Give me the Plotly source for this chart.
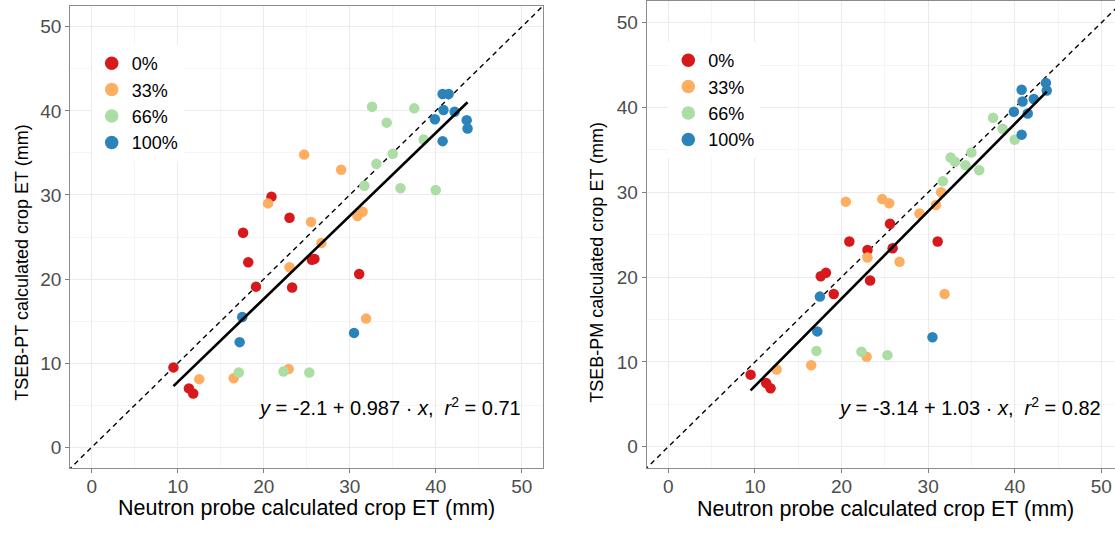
import plotly.graph_objects as go

# ---------------- data ----------------
groups = ["0%", "33%", "66%", "100%"]
colors = ["#D7191C", "#FDAE61", "#ABDDA4", "#2B83BA"]

red_x = [9.5, 11.3, 11.8, 17.6, 18.2, 19.1, 20.9, 23.0, 23.3, 25.6, 25.9, 31.1]
red_pt = [9.5, 7.0, 6.4, 25.5, 22.0, 19.1, 29.8, 27.3, 19.0, 22.3, 22.4, 20.6]
red_pm = [8.5, 7.5, 6.9, 20.1, 20.5, 18.0, 24.2, 23.2, 19.6, 26.3, 23.4, 24.2]

orange_x = [12.5, 16.5, 20.5, 22.9, 23.0, 24.7, 25.5, 26.7, 29.0, 30.9, 31.5, 31.9]
orange_pt = [8.1, 8.2, 29.0, 9.3, 21.4, 34.8, 26.8, 24.3, 33.0, 27.5, 28.0, 15.3]
orange_pm = [9.1, 9.6, 28.9, 10.6, 22.3, 29.2, 28.7, 21.8, 27.5, 28.5, 30.0, 18.0]

green_x = [17.1, 22.3, 25.3, 31.7, 32.6, 33.1, 34.3, 35.0, 35.9, 37.5, 38.6, 40.0]
green_pt = [8.9, 9.0, 8.9, 31.1, 40.5, 33.7, 38.6, 34.9, 30.8, 40.3, 36.6, 30.6]
green_pm = [11.3, 11.2, 10.8, 31.3, 34.1, 33.6, 33.2, 34.7, 32.6, 38.8, 37.5, 36.2]

blue_x = [17.2, 17.5, 30.5, 39.9, 40.8, 41.5, 40.9, 40.8, 42.2, 43.6, 43.7]
blue_pt = [12.5, 15.5, 13.6, 39.0, 42.0, 42.0, 40.1, 36.4, 39.9, 38.9, 37.9]
blue_pm = [13.6, 17.7, 12.9, 39.5, 42.1, 39.3, 40.7, 36.8, 41.0, 42.9, 42.0]

fit_intercept = [-2.1, -3.14]
fit_slope = [0.987, 1.03]
fit_label = ["<i>y</i> = -2.1 + 0.987 · <i>x</i>,&nbsp;&nbsp;<i>r</i><sup>2</sup> = 0.71",
             "<i>y</i> = -3.14 + 1.03 · <i>x</i>,&nbsp;&nbsp;<i>r</i><sup>2</sup> = 0.82"]

x_title = "Neutron probe calculated crop ET (mm)"
y_titles = ["TSEB-PT calculated crop ET (mm)", "TSEB-PM calculated crop ET (mm)"]
tick_vals = [0, 10, 20, 30, 40, 50]

xs = [red_x, orange_x, green_x, blue_x]
ys_panels = [[red_pt, orange_pt, green_pt, blue_pt],
             [red_pm, orange_pm, green_pm, blue_pm]]

# ---------------- figure ----------------
W, H = 1115, 533
FONT = "Liberation Sans, Arial, sans-serif"
fig = go.Figure()

axes = [("x", "y"), ("x2", "y2")]
legends = ["legend", "legend2"]
all_x = [v for g in xs for v in g]
xmin, xmax = min(all_x), max(all_x)

for p, (xa, ya) in enumerate(axes):
    # 1:1 dashed line
    fig.add_trace(go.Scatter(x=[-5, 60], y=[-5, 60], mode="lines",
                             line=dict(color="black", width=1.4, dash="5px,4px"),
                             xaxis=xa, yaxis=ya, showlegend=False, hoverinfo="skip"))
    # points
    for g, name in enumerate(groups):
        fig.add_trace(go.Scatter(x=xs[g], y=ys_panels[p][g], mode="markers",
                                 marker=dict(color=colors[g], size=10.5),
                                 xaxis=xa, yaxis=ya, showlegend=False, name=name))
    # regression line
    fx = [xmin, xmax]
    fy = [fit_intercept[p] + fit_slope[p] * v for v in fx]
    fig.add_trace(go.Scatter(x=fx, y=fy, mode="lines",
                             line=dict(color="black", width=2.6),
                             xaxis=xa, yaxis=ya, showlegend=False, hoverinfo="skip"))
    # legend entries (bigger key symbols)
    for g, name in enumerate(groups):
        fig.add_trace(go.Scatter(x=[None], y=[None], mode="markers",
                                 marker=dict(color=colors[g], size=13.5),
                                 xaxis=xa, yaxis=ya, name=name,
                                 legend=legends[p], showlegend=True))

grid_major = "#EBEBEB"
grid_minor = "#F5F5F5"
border = "#8C8C8C"
tickfont = dict(family=FONT, size=19, color="#4D4D4D")

def axis_style(rng, domain, mirror, anchor, standoff=0):
    return dict(range=rng, domain=domain, anchor=anchor, tickvals=tick_vals, showgrid=True,
                gridcolor=grid_major, gridwidth=1, zeroline=False, automargin=False,
                showline=True, linecolor=border, linewidth=1, mirror=mirror,
                ticks="outside", ticklen=4, tickcolor="#7F7F7F", tickwidth=1,
                tickfont=tickfont, ticklabelstandoff=standoff,
                minor=dict(dtick=5, tick0=5, showgrid=True, gridcolor=grid_minor,
                           gridwidth=1, ticks=""))

legend_font = dict(family=FONT, size=18, color="black")
fig.update_layout(
    width=W, height=H, autosize=False,
    margin=dict(l=0, r=0, t=0, b=0, pad=0),
    paper_bgcolor="white", plot_bgcolor="white",
    font=dict(family=FONT, color="black"),
    xaxis=axis_style([-2.5, 52.5], [0.063, 0.4872], True, "y", -3),
    yaxis=axis_style([-2.5, 52.5], [0.1214, 0.9892], True, "x"),
    xaxis2=axis_style([-2.5, 51.58], [0.58, 1.0], True, "y2", -3),
    yaxis2=axis_style([-2.5, 52.5], [0.1221, 0.9972], False, "x2"),
    legend=dict(x=91.7 / W, y=1 - 45 / H, xanchor="left", yanchor="top",
                bgcolor="white", font=legend_font, tracegroupgap=0, itemclick=False),
    legend2=dict(x=668.3 / W, y=1 - 42 / H, xanchor="left", yanchor="top",
                 bgcolor="white", font=legend_font, tracegroupgap=0, itemclick=False),
    showlegend=True,
)

# equations
for p, (xa, ya) in enumerate(axes):
    fig.add_annotation(x=50.2, y=4.8, xref=xa, yref=ya, text=fit_label[p],
                       showarrow=False, xanchor="right", yanchor="middle",
                       font=dict(family=FONT, size=20, color="black"))

# axis titles
x_title_pos = [(307 / W, 1 - 508 / H), (885 / W, 1 - 509 / H)]
y_title_pos = [(21.7 / W, 1 - 263 / H), (596.7 / W, 1 - 262 / H)]
for p in range(2):
    fig.add_annotation(x=x_title_pos[p][0], y=x_title_pos[p][1], xref="paper", yref="paper",
                       text=x_title, showarrow=False, xanchor="center", yanchor="middle",
                       font=dict(family=FONT, size=21.5, color="black"))
    fig.add_annotation(x=y_title_pos[p][0], y=y_title_pos[p][1], xref="paper", yref="paper",
                       text=y_titles[p], showarrow=False, xanchor="center", yanchor="middle",
                       textangle=-90, font=dict(family=FONT, size=18, color="black"))

# remove the browser's default 8px body margin so the figure sits at the page origin
fig.write_html("out.html", config={"displayModeBar": False},
               post_script="document.body.style.margin='0px';document.body.style.overflow='hidden';")
